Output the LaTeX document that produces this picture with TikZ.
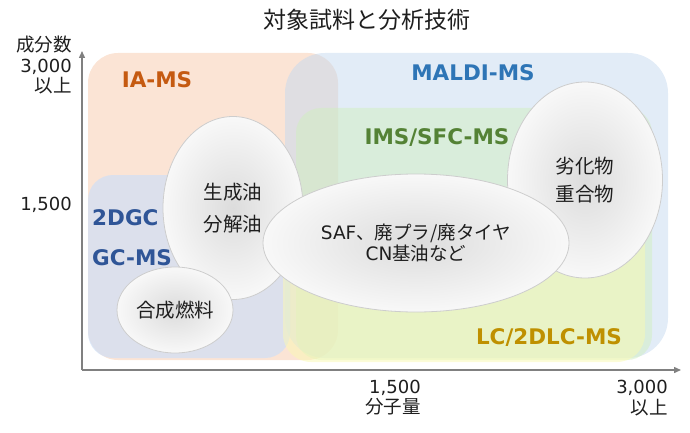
\documentclass[tikz,border=0pt]{standalone}
\usepackage{fontspec}
\setmainfont{DejaVu Sans}
\newfontfamily\jp{Noto Sans CJK JP}
\usetikzlibrary{shapes.geometric,arrows.meta}
\definecolor{orangeB}{RGB}{247,201,171}
\definecolor{blueB}{RGB}{197,217,239}
\definecolor{greenB}{RGB}{208,238,192}
\definecolor{gcB}{RGB}{207,224,247}
\definecolor{yellowB}{RGB}{250,250,178}
\definecolor{ellin}{RGB}{220,220,220}
\definecolor{ellout}{RGB}{248,248,248}
\definecolor{ellborder}{RGB}{205,205,205}
\definecolor{axisgray}{RGB}{128,128,128}
\definecolor{txt}{RGB}{30,30,30}
\definecolor{iaC}{RGB}{197,90,17}
\definecolor{maldiC}{RGB}{46,117,182}
\definecolor{imsC}{RGB}{84,130,53}
\definecolor{gcC}{RGB}{47,85,151}
\definecolor{lcC}{RGB}{191,144,0}
\begin{document}
\begin{tikzpicture}[x=1pt,y=-1pt,
  region/.style={rectangle, inner sep=0pt, outer sep=0pt, anchor=north west, fill opacity=0.5, draw=none},
  ell/.style={ellipse, draw=ellborder, line width=0.8pt, shading=radial, inner color=ellin, outer color=ellout, inner sep=0pt, align=center, text=txt, font=\jp\fontsize{19.5}{19.5}\selectfont},
  tech/.style={inner sep=0pt, font=\bfseries\fontsize{21.5}{22}\selectfont},
  axlab/.style={inner sep=0pt, text=txt, font=\fontsize{18}{18}\selectfont},
  axjp/.style={inner sep=0pt, text=txt, font=\jp\fontsize{18.5}{18.5}\selectfont},
  axis/.style={draw=axisgray, line width=1.4pt, -{Triangle[length=7pt,width=6pt]}}
]
\useasboundingbox (0,0) rectangle (690,433);
% title
\node[inner sep=0pt, text=txt, font=\jp\fontsize{23}{23}\selectfont] (title) at (367,20) {対象試料と分析技術};
% regions
\node[region, fill=orangeB, rounded corners=30pt, minimum width=250pt, minimum height=307pt] (ia) at (88,53) {};
\node[region, fill=blueB, rounded corners=40pt, minimum width=383pt, minimum height=305pt] (maldi) at (285,53) {};
\node[region, fill=gcB, fill opacity=0.7, rounded corners=25pt, minimum width=202pt, minimum height=183pt] (gc) at (88,175) {};
\node[region, fill=greenB, rounded corners=25pt, minimum width=356pt, minimum height=252pt] (ims) at (296,108) {};
\node[region, fill=yellowB, rounded corners=28pt, minimum width=362pt, minimum height=152pt] (lc) at (283,210) {};
% technique labels
\node[tech, text=iaC] (tia) at (157,80) {IA-MS};
\node[tech, text=maldiC] (tmaldi) at (473,73) {MALDI-MS};
\node[tech, text=imsC] (tims) at (437,138) {IMS/SFC-MS};
\node[tech, text=gcC, anchor=west] (t2dgc) at (92,218) {2DGC};
\node[tech, text=gcC, anchor=west] (tgcms) at (92,258) {GC-MS};
\node[tech, text=lcC] (tlc) at (549,338) {LC/2DLC-MS};
% sample ellipses
\node[ell, minimum width=155pt, minimum height=196pt] (deg) at (585,180) {劣化物\\[9pt]重合物};
\node[ell, minimum width=140pt, minimum height=183pt] (oil) at (233,208) {生成油\\[12pt]分解油};
\node[ell, font=\jp\fontsize{18.5}{18.5}\selectfont, minimum width=306pt, minimum height=138pt] (saf) at (416,243) {{\fontspec{DejaVu Sans}SAF}、廃プラ/廃タイヤ\\[2pt]{\fontspec{DejaVu Sans}CN}基油など};
\node[ell, minimum width=116pt, minimum height=86pt] (syn) at (175,310) {合成燃料};
% axes
\coordinate (O) at (82,370);
\coordinate (ytip) at (82,51);
\coordinate (xtip) at (681,370);
\draw[axis] (O) -- (ytip);
\draw[axis] (O) -- (xtip);
% axis labels
\node[axjp, anchor=east] (ylab) at (72,45) {成分数};
\node[axlab, anchor=east] (y3000) at (72,67) {3,000};
\node[axjp, anchor=east] (yover) at (72,86) {以上};
\node[axlab, anchor=east] (y1500) at (72,205) {1,500};
\node[axlab] (x1500) at (395,388) {1,500};
\node[axjp] (xlab) at (393,407) {分子量};
\node[axlab, anchor=east] (x3000) at (668,388) {3,000};
\node[axjp, anchor=east] (xover) at (668,408) {以上};
\end{tikzpicture}
\end{document}
